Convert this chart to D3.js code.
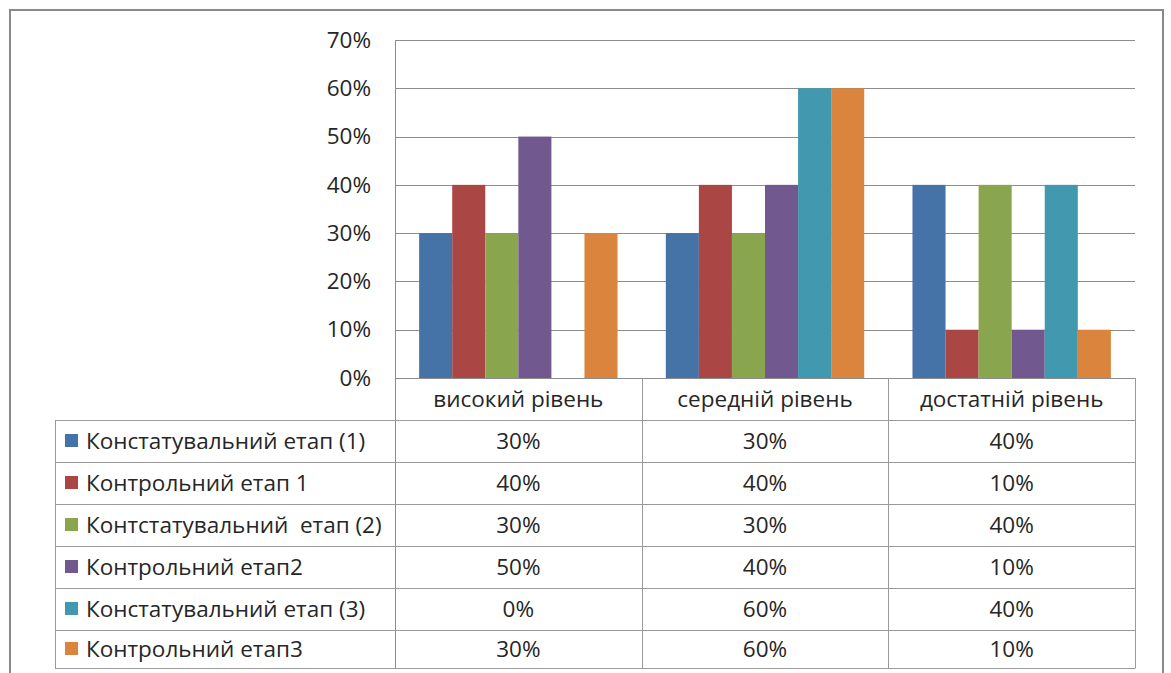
<!DOCTYPE html>
<html><head><meta charset="utf-8">
<script src="https://cdn.jsdelivr.net/npm/d3@7"></script>
<style>body{margin:0;background:#fff}svg{display:block}text{font-family:"Open Sans",sans-serif;fill:#262626;white-space:pre}</style>
</head><body>
<svg id="c" width="1171" height="673"></svg>
<script>
const categories = ["високий рівень", "середній рівень", "достатній рівень"];
const seriesNames = ["Констатувальний етап (1)", "Контрольний етап 1", "Контстатувальний  етап (2)", "Контрольний етап2", "Констатувальний етап (3)", "Контрольний етап3"];
const seriesColors = ["#4572A7", "#AA4643", "#89A54E", "#71588F", "#4198AF", "#DB843D"];
const s1 = [30, 30, 40];
const s2 = [40, 40, 10];
const s3 = [30, 30, 40];
const s4 = [50, 40, 10];
const s5 = [0, 60, 40];
const s6 = [30, 60, 10];
const seriesValues = [s1, s2, s3, s4, s5, s6];
const yTicks = [0, 10, 20, 30, 40, 50, 60, 70];

const svg = d3.select("#c");
const L = 395, R = 1135, T = 40, B = 378;
const fs = 22.5;

// outer frame
svg.append("rect").attr("x", 10).attr("y", 10).attr("width", 1153).attr("height", 680)
  .attr("fill", "none").attr("stroke", "#8a8a8a").attr("stroke-width", 2);

const x0 = d3.scaleBand().domain(categories).range([L, R]);
const x1 = d3.scaleBand().domain(d3.range(seriesNames.length)).range([0, x0.bandwidth()]).paddingOuter(0.73);
const y = d3.scaleLinear().domain([0, 70]).range([B, T]);

// gridlines
svg.append("g").selectAll("line").data(yTicks).join("line")
  .attr("x1", L).attr("x2", R).attr("y1", d => Math.round(y(d)) + 0.5).attr("y2", d => Math.round(y(d)) + 0.5)
  .attr("stroke", "#8c8c8c").attr("stroke-width", 1);

// y axis
const yAxis = d3.axisLeft(y).tickValues(yTicks).tickFormat(d => d + "%").tickSize(0).tickPadding(24);
const ya = svg.append("g").attr("transform", `translate(${L},0)`).call(yAxis);
ya.select(".domain").remove();
ya.selectAll("text").style("font-size", fs + "px").attr("fill", "#262626").style("font-family", '"Open Sans",sans-serif');
svg.append("line").attr("x1", L + 0.5).attr("x2", L + 0.5).attr("y1", T).attr("y2", 668).attr("stroke", "#8c8c8c");

// bars
const groups = svg.append("g").selectAll("g").data(categories).join("g")
  .attr("transform", d => `translate(${x0(d)},0)`);
groups.selectAll("rect").data((c, ci) => seriesValues.map((s, si) => ({si, v: s[ci]}))).join("rect")
  .attr("x", d => x1(d.si)).attr("width", x1.bandwidth())
  .attr("y", d => y(d.v)).attr("height", d => B - y(d.v))
  .attr("fill", d => seriesColors[d.si]);

// data table
const rowH = 42, headTop = B, tableTop = 420, tableLeft = 55;
const tg = svg.append("g");
const gridStroke = "#9a9a9a";
x0.domain().forEach(c => {
  const xe = Math.round(x0(c) + x0.bandwidth()) + 0.5;
  tg.append("line").attr("x1", xe).attr("x2", xe).attr("y1", headTop).attr("y2", tableTop + rowH * 6 - 4).attr("stroke", gridStroke);
});
tg.append("line").attr("x1", tableLeft + 0.5).attr("x2", tableLeft + 0.5).attr("y1", tableTop).attr("y2", tableTop + rowH * 6 - 4).attr("stroke", gridStroke);
d3.range(7).forEach(i => {
  const yy = (i === 6 ? tableTop + rowH * 6 - 4 : tableTop + rowH * i) + 0.5;
  tg.append("line").attr("x1", tableLeft).attr("x2", R + 0.5).attr("y1", yy).attr("y2", yy).attr("stroke", gridStroke);
});
tg.selectAll("text.cat").data(categories).join("text").attr("class", "cat")
  .attr("x", d => x0(d) + x0.bandwidth() / 2).attr("y", (headTop + tableTop) / 2 + 8)
  .attr("text-anchor", "middle").style("font-size", fs + "px").text(d => d);
seriesNames.forEach((name, si) => {
  const rt = tableTop + rowH * si;
  const h = si === 5 ? rowH - 4 : rowH;
  const cy = rt + h / 2;
  tg.append("rect").attr("x", 65).attr("y", cy - 7).attr("width", 13).attr("height", 13).attr("fill", seriesColors[si]);
  tg.append("text").attr("x", 86).attr("y", cy + 8).style("font-size", fs + "px").text(name);
  categories.forEach((c, ci) => {
    tg.append("text").attr("x", x0(c) + x0.bandwidth() / 2).attr("y", cy + 8)
      .attr("text-anchor", "middle").style("font-size", fs + "px").text(seriesValues[si][ci] + "%");
  });
});
</script>
</body></html>
